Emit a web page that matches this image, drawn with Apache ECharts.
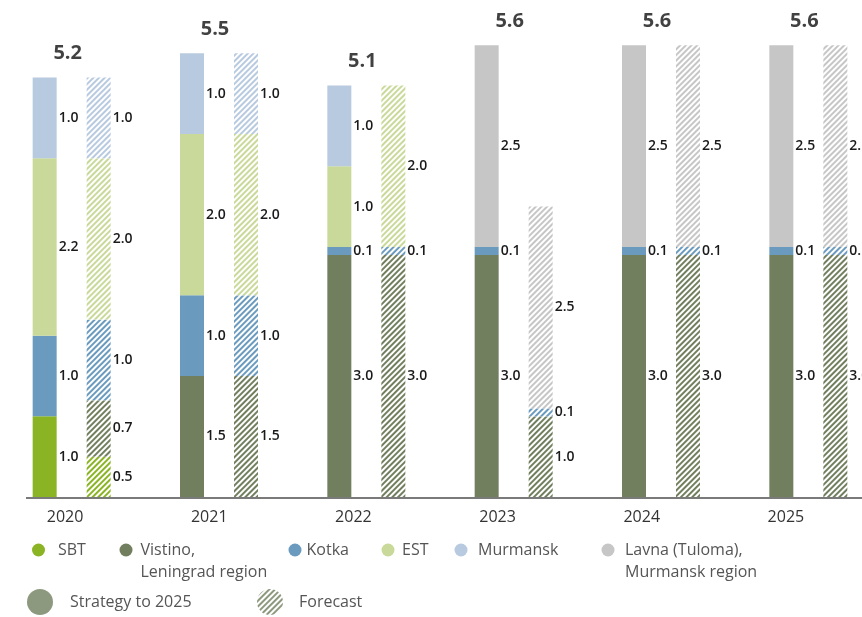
<!DOCTYPE html>
<html>
<head>
<meta charset="utf-8">
<title>Capacity by terminal, 2020–2025</title>
<script src="https://cdn.jsdelivr.net/npm/echarts@6/dist/echarts.min.js"></script>
<style>
  html, body { margin: 0; padding: 0; background: #fff; }
  #chart { width: 862px; height: 617px; }
</style>
</head>
<body>
<div id="chart"></div>
<script>
// Years on the category axis
const years = ['2020', '2021', '2022', '2023', '2024', '2025'];

// Terminal names (legend + series)
const terminals = ['SBT', 'Vistino,\nLeningrad region', 'Kotka', 'EST', 'Murmansk', 'Lavna (Tuloma),\nMurmansk region'];
const terminalColors = ['#8ab424', '#717f5e', '#6a9bbf', '#c9d99a', '#b8cadf', '#c6c6c6'];

// Strategy to 2025 (solid bars)
const sbtStrategy      = [1.0, null, null, null, null, null];
const vistinoStrategy  = [null, 1.5, 3.0, 3.0, 3.0, 3.0];
const kotkaStrategy    = [1.0, 1.0, 0.1, 0.1, 0.1, 0.1];
const estStrategy      = [2.2, 2.0, 1.0, null, null, null];
const murmanskStrategy = [1.0, 1.0, 1.0, null, null, null];
const lavnaStrategy    = [null, null, null, 2.5, 2.5, 2.5];

// Forecast (hatched bars)
const sbtForecast      = [0.5, null, null, null, null, null];
const vistinoForecast  = [0.7, 1.5, 3.0, 1.0, 3.0, 3.0];
const kotkaForecast    = [1.0, 1.0, 0.1, 0.1, 0.1, 0.1];
const estForecast      = [2.0, 2.0, 2.0, null, null, null];
const murmanskForecast = [1.0, 1.0, null, null, null, null];
const lavnaForecast    = [null, null, null, 2.5, 2.5, 2.5];

const strategyData = [sbtStrategy, vistinoStrategy, kotkaStrategy, estStrategy, murmanskStrategy, lavnaStrategy];
const forecastData = [sbtForecast, vistinoForecast, kotkaForecast, estForecast, murmanskForecast, lavnaForecast];

// Year totals shown above each pair of bars
const strategyTotals = years.map((_, i) =>
  Math.round(strategyData.reduce((s, arr) => s + (arr[i] || 0), 0) * 10) / 10);

const FONT = '"Open Sans", "Noto Sans", sans-serif';
const hatch = (color) => ({
  symbol: 'rect', symbolSize: 1, color: color,
  dashArrayX: [1, 0], dashArrayY: [2, 2], rotation: -Math.PI / 4
});

const valueLabel = {
  show: true, position: 'right', distance: 2,
  color: '#1a1a1a', fontSize: 14, fontFamily: FONT, fontWeight: 600,
  formatter: (p) => (p.value == null ? '' : p.value.toFixed(1))
};

const series = [];
terminals.forEach((name, k) => {
  series.push({
    name, type: 'bar', stack: 'strategy', xAxisIndex: 0, yAxisIndex: 0,
    barWidth: 24, barGap: '125%',
    itemStyle: { color: terminalColors[k] },
    label: valueLabel,
    data: strategyData[k]
  });
});
terminals.forEach((name, k) => {
  series.push({
    name, type: 'bar', stack: 'forecast', xAxisIndex: 0, yAxisIndex: 0,
    barWidth: 24, barGap: '125%',
    itemStyle: { color: '#ffffff', decal: hatch(terminalColors[k]) },
    label: valueLabel,
    data: forecastData[k]
  });
});
// Totals above each year
series.push({
  name: 'total', type: 'scatter', xAxisIndex: 0, yAxisIndex: 0,
  symbolSize: 0, silent: true,
  label: {
    show: true, position: 'top', distance: 14, offset: [-4, 0],
    color: '#111', fontSize: 20, fontWeight: 'bold', fontFamily: FONT,
    formatter: (p) => p.value.toFixed(1)
  },
  data: strategyTotals
});
// Legend keys for the two scenarios
series.push({
  name: 'Strategy to 2025', type: 'scatter', xAxisIndex: 0, yAxisIndex: 0,
  itemStyle: { color: '#717f5e' }, data: []
});
series.push({
  name: 'Forecast', type: 'scatter', xAxisIndex: 0, yAxisIndex: 0,
  itemStyle: { color: '#ffffff', decal: hatch('#717f5e') }, data: []
});

// One legend per key; two-line names get a leading blank line so the
// first line sits level with the dot.
const legendItem = (name, left, top, size, gap, multiline) => ({
  data: [name], left, top, itemWidth: size, itemHeight: size, padding: 0,
  icon: 'circle', selectedMode: false,
  formatter: multiline ? (n) => '\n' + n : (n) => n,
  textStyle: {
    color: '#555', fontSize: 16, fontFamily: FONT, lineHeight: 22,
    padding: [0, 0, 0, gap]
  }
});

const chart = echarts.init(document.getElementById('chart'), null, { renderer: 'canvas' });
chart.setOption({
  animation: false,
  backgroundColor: '#fff',
  grid: [
    { left: -2, width: 884, top: 13, bottom: 120, outerBoundsMode: 'none', containLabel: false },
    { left: -7, width: 865, top: 13, bottom: 120, outerBoundsMode: 'none', containLabel: false }
  ],
  xAxis: [
    { type: 'category', data: years, gridIndex: 0, show: false },
    {
      type: 'category', data: years, gridIndex: 1,
      axisLine: { show: false }, axisTick: { show: false },
      axisLabel: { margin: 12, color: '#333', fontSize: 16, fontFamily: FONT }
    }
  ],
  yAxis: [
    { type: 'value', gridIndex: 0, min: 0, max: 6, show: false },
    { type: 'value', gridIndex: 1, min: 0, max: 6, show: false }
  ],
  legend: [
    legendItem(terminals[0], 32, 539, 13, 8, false),
    legendItem(terminals[1], 119.5, 517, 13, 3, true),
    legendItem(terminals[2], 288.5, 539, 13, 0, false),
    legendItem(terminals[3], 381.5, 539, 13, 2.5, false),
    legendItem(terminals[4], 454.5, 539, 13, 5.5, false),
    legendItem(terminals[5], 601.5, 517, 13, 5.5, true),
    legendItem('Strategy to 2025', 27, 589, 26, 12, false),
    legendItem('Forecast', 257, 589, 26, 11, false)
  ],
  graphic: [{
    type: 'line', silent: true,
    shape: { x1: 26, y1: 498, x2: 862, y2: 498 },
    style: { stroke: '#7a7a7a', lineWidth: 2 }
  }],
  series
});
</script>
</body>
</html>
